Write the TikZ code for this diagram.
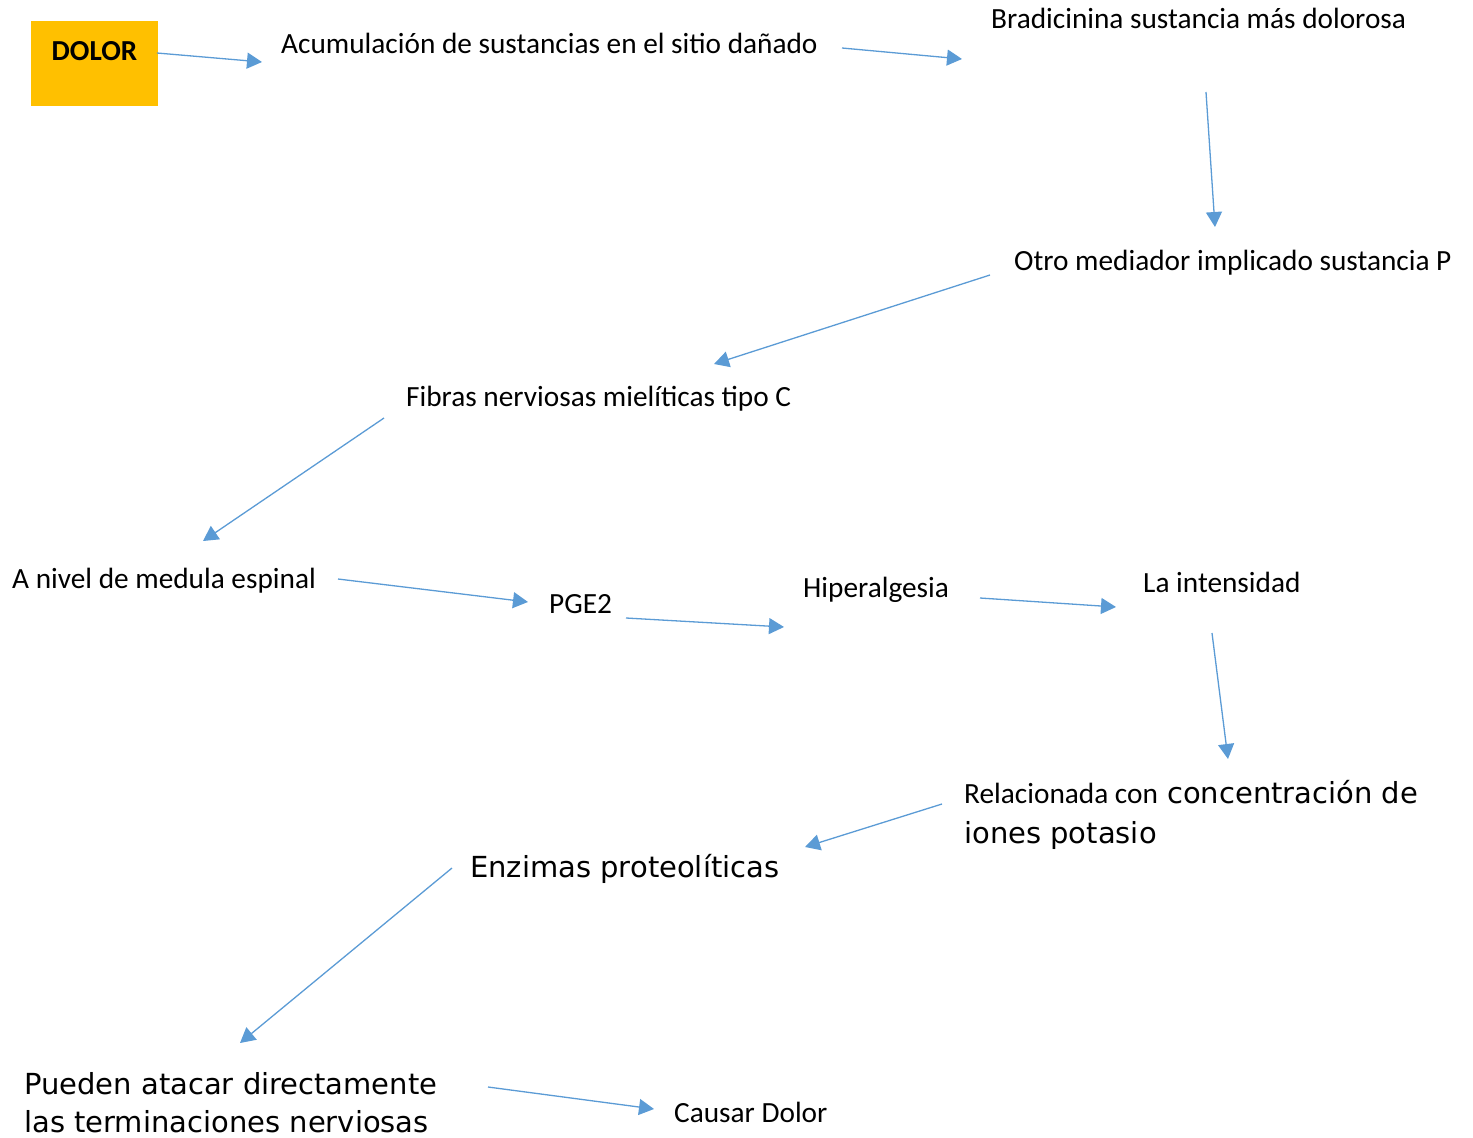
\documentclass[tikz,border=0pt]{standalone}
\usepackage{fontspec}
\setmainfont{Carlito}
\newfontfamily\verd{DejaVu Sans}
\usetikzlibrary{arrows.meta}
\definecolor{arrowblue}{HTML}{5B9BD5}
\definecolor{dolorfill}{HTML}{FFC000}
\begin{document}
\begin{tikzpicture}[x=1pt,y=-1pt,
  lbl/.style={inner sep=0pt, anchor=base west, font=\fontsize{29.3}{35}\selectfont},
  vlbl/.style={inner sep=0pt, anchor=base west, align=left, font=\verd\fontsize{29}{38}\selectfont},
  arr/.style={draw=arrowblue, line width=1.3pt, -{Triangle[length=15pt,width=16pt]}}]
\path[use as bounding box] (0,0) rectangle (1473,1138);
% box
\node[fill=dolorfill, minimum width=127pt, minimum height=85pt, inner sep=0pt] (dolor) at (94.5,63.5) {};
\node[lbl, anchor=base, font=\bfseries\fontsize{29}{35}\selectfont] (dolortxt) at (94.5,60) {DOLOR};
% labels
\node[lbl] (acum) at (281,53) {Acumulación de sustancias en el sitio dañado};
\node[lbl] (brad) at (991,28) {Bradicinina sustancia más dolorosa};
\node[lbl] (otro) at (1014,270) {Otro mediador implicado sustancia P};
\node[lbl] (fibras) at (406,406) {Fibras nerviosas mielíticas tipo C};
\node[lbl] (nivel) at (12,588) {A nivel de medula espinal};
\node[lbl] (pge) at (549,613) {PGE2};
\node[lbl] (hiper) at (803,597) {Hiperalgesia};
\node[lbl] (inten) at (1143,592) {La intensidad};
\node[vlbl, font=\verd\fontsize{29}{40}\selectfont] (relac) at (964,843) {{\rmfamily\fontsize{29.3}{40}\selectfont Relacionada con} concentración de\\iones potasio};
\node[vlbl] (enzimas) at (470,877) {Enzimas proteolíticas};
\node[vlbl] (pueden) at (24,1132) {Pueden atacar directamente\\las terminaciones nerviosas};
\node[lbl] (causar) at (674,1122) {Causar Dolor};
% connector end points
\coordinate (a1s) at (157,53);   \coordinate (a1e) at (262,62);
\coordinate (a2s) at (842,48);   \coordinate (a2e) at (962,59);
\coordinate (a3s) at (1206,92);  \coordinate (a3e) at (1215,227);
\coordinate (a4s) at (990,275);  \coordinate (a4e) at (714,364);
\coordinate (a5s) at (384,418);  \coordinate (a5e) at (203,541);
\coordinate (a6s) at (338,579);  \coordinate (a6e) at (528,602);
\coordinate (a7s) at (626,618);  \coordinate (a7e) at (784,627);
\coordinate (a8s) at (980,598);  \coordinate (a8e) at (1116,607);
\coordinate (a9s) at (1212,633); \coordinate (a9e) at (1228,759);
\coordinate (a10s) at (942,804); \coordinate (a10e) at (805,847);
\coordinate (a11s) at (452,868); \coordinate (a11e) at (240,1043);
\coordinate (a12s) at (488,1087);\coordinate (a12e) at (654,1109);
\draw[arr] (a1s) -- (a1e);
\draw[arr] (a2s) -- (a2e);
\draw[arr] (a3s) -- (a3e);
\draw[arr] (a4s) -- (a4e);
\draw[arr] (a5s) -- (a5e);
\draw[arr] (a6s) -- (a6e);
\draw[arr] (a7s) -- (a7e);
\draw[arr] (a8s) -- (a8e);
\draw[arr] (a9s) -- (a9e);
\draw[arr] (a10s) -- (a10e);
\draw[arr] (a11s) -- (a11e);
\draw[arr] (a12s) -- (a12e);
\end{tikzpicture}
\end{document}
